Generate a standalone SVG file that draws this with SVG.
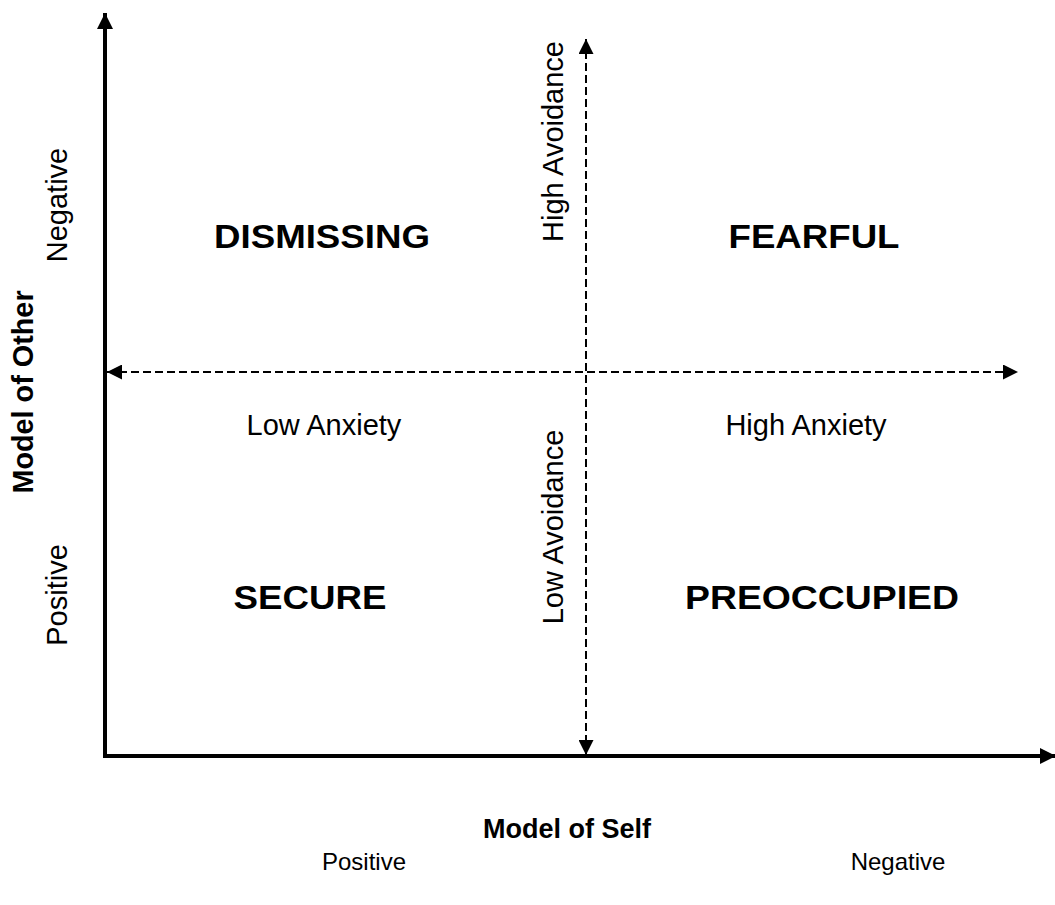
<svg xmlns="http://www.w3.org/2000/svg" width="1055" height="905" viewBox="0 0 1055 905">
<style>
text{font-family:"Liberation Sans",Arial,sans-serif;fill:#000}
.q{font-size:33.5px;font-weight:bold;text-anchor:middle}
.l{font-size:29px;text-anchor:middle}
.b{font-size:24px;text-anchor:middle}
.t{font-size:28.8px;font-weight:bold;text-anchor:middle}
.ts{font-size:27px;font-weight:bold;text-anchor:middle}
.axis{stroke:#000;stroke-width:4;fill:none}
.dash{stroke:#000;stroke-width:2;stroke-dasharray:8 4;fill:none}
</style>
<defs>
<marker id="ah" viewBox="0 0 10 10" refX="10" refY="5" markerWidth="4" markerHeight="4" markerUnits="strokeWidth" orient="auto"><path d="M0,0 L10,5 L0,10 z" fill="#000"/></marker>
<marker id="dh" viewBox="0 0 10 10" refX="10" refY="5" markerWidth="7.5" markerHeight="7.5" markerUnits="strokeWidth" orient="auto-start-reverse"><path d="M0,0 L10,5 L0,10 z" fill="#000"/></marker>
</defs>
<g id="connectors">
<line class="axis" x1="105" y1="758" x2="105" y2="13" marker-end="url(#ah)"/>
<line class="axis" x1="103" y1="756" x2="1056" y2="756" marker-end="url(#ah)"/>
<line class="dash" x1="586" y1="755" x2="586" y2="39" marker-start="url(#dh)" marker-end="url(#dh)"/>
<line class="dash" x1="107" y1="372" x2="1018" y2="372" marker-start="url(#dh)" marker-end="url(#dh)"/>
</g>
<g id="dismissing"><text class="q" x="322" y="248" textLength="216" lengthAdjust="spacingAndGlyphs">DISMISSING</text></g>
<g id="fearful"><text class="q" x="814" y="248" textLength="171" lengthAdjust="spacingAndGlyphs">FEARFUL</text></g>
<g id="secure"><text class="q" x="310" y="609" textLength="153" lengthAdjust="spacingAndGlyphs">SECURE</text></g>
<g id="preoccupied"><text class="q" x="822" y="609" textLength="274" lengthAdjust="spacingAndGlyphs">PREOCCUPIED</text></g>
<g id="low-anxiety"><text class="l" x="324" y="435">Low Anxiety</text></g>
<g id="high-anxiety"><text class="l" x="806" y="435">High Anxiety</text></g>
<g id="high-avoidance"><text class="l" transform="translate(563,141.5) rotate(-90)">High Avoidance</text></g>
<g id="low-avoidance"><text class="l" transform="translate(563,527) rotate(-90)">Low Avoidance</text></g>
<g id="other-negative"><text class="l" transform="translate(67,205) rotate(-90)">Negative</text></g>
<g id="other-positive"><text class="l" transform="translate(67,595) rotate(-90)">Positive</text></g>
<g id="model-other"><text class="t" transform="translate(33,392) rotate(-90)">Model of Other</text></g>
<g id="model-self"><text class="ts" x="567" y="838">Model of Self</text></g>
<g id="self-positive"><text class="b" x="364" y="870">Positive</text></g>
<g id="self-negative"><text class="b" x="898" y="870">Negative</text></g>
</svg>
